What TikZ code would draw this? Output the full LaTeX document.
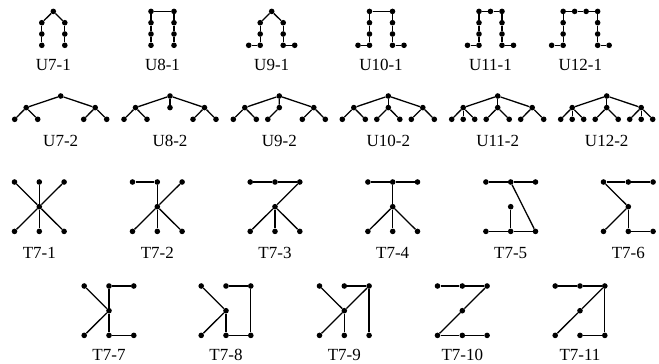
\documentclass[tikz,border=0pt]{standalone}
\usepackage{fontspec}
\setmainfont{Liberation Serif}
\tikzset{
  dot/.style={circle,fill=black,inner sep=0pt,minimum size=5.6pt},
  edge/.style={line width=1.3pt},
  lbl/.style={anchor=base,font=\fontsize{17}{17}\selectfont,inner sep=0pt}
}
\newcommand{\TGraph}[6]{%
  \node[dot] (#1TL) at ({#2-24.8},{#3-24.7}) {};
  \node[dot] (#1TM) at ({#2},{#3-24.7}) {};
  \node[dot] (#1TR) at ({#2+24.8},{#3-24.7}) {};
  \node[dot] (#1C)  at ({#2},{#3}) {};
  \node[dot] (#1BL) at ({#2-24.8},{#3+24.7}) {};
  \node[dot] (#1BM) at ({#2},{#3+24.7}) {};
  \node[dot] (#1BR) at ({#2+24.8},{#3+24.7}) {};
  \foreach \a/\b in {#4} {\draw[edge] (#1\a) -- (#1\b);}
  \node[lbl] (#1lab) at (#2,#6) {#5};
}
\begin{document}
\begin{tikzpicture}[x=1pt,y=-1pt]
\useasboundingbox (0,0) rectangle (659,364);

% ---------- Row 1 ----------
\begin{scope}[shift={(53.3,0)}]
  \node[dot] (a7t) at (0,11.4) {};
  \node[dot] (a7l1) at (-11.5,22.7) {};
  \node[dot] (a7l2) at (-11.5,34) {};
  \node[dot] (a7l3) at (-11.5,45.3) {};
  \node[dot] (a7r1) at (11.5,22.7) {};
  \node[dot] (a7r2) at (11.5,34) {};
  \node[dot] (a7r3) at (11.5,45.3) {};
  \draw[edge] (a7l1) -- (a7t) -- (a7r1);
  \draw[edge] (a7l1) -- (a7l2) -- (a7l3);
  \draw[edge] (a7r1) -- (a7r2) -- (a7r3);
  \node[lbl] (a7lab) at (0,70.7) {U7-1};
\end{scope}
\begin{scope}[shift={(162.5,0)}]
  \node[dot] (a8lt) at (-11.5,11.4) {};
  \node[dot] (a8l1) at (-11.5,22.7) {};
  \node[dot] (a8l2) at (-11.5,34) {};
  \node[dot] (a8l3) at (-11.5,45.3) {};
  \node[dot] (a8rt) at (11.5,11.4) {};
  \node[dot] (a8r1) at (11.5,22.7) {};
  \node[dot] (a8r2) at (11.5,34) {};
  \node[dot] (a8r3) at (11.5,45.3) {};
  \draw[edge] (a8lt) -- (a8rt);
  \draw[edge] (a8lt) -- (a8l1) -- (a8l2) -- (a8l3);
  \draw[edge] (a8rt) -- (a8r1) -- (a8r2) -- (a8r3);
  \node[lbl] (a8lab) at (0,70.7) {U8-1};
\end{scope}
\begin{scope}[shift={(271.7,0)}]
  \node[dot] (a9t) at (0,11.4) {};
  \node[dot] (a9l1) at (-11.5,22.7) {};
  \node[dot] (a9l2) at (-11.5,34) {};
  \node[dot] (a9l3) at (-11.5,45.3) {};
  \node[dot] (a9r1) at (11.5,22.7) {};
  \node[dot] (a9r2) at (11.5,34) {};
  \node[dot] (a9r3) at (11.5,45.3) {};
  \node[dot] (a9ll) at (-23,45.3) {};
  \node[dot] (a9rr) at (23,45.3) {};
  \draw[edge] (a9l1) -- (a9t) -- (a9r1);
  \draw[edge] (a9l1) -- (a9l2) -- (a9l3) -- (a9ll);
  \draw[edge] (a9r1) -- (a9r2) -- (a9r3) -- (a9rr);
  \node[lbl] (a9lab) at (0,70.7) {U9-1};
\end{scope}
\begin{scope}[shift={(381,0)}]
  \node[dot] (a10lt) at (-11.5,11.4) {};
  \node[dot] (a10l1) at (-11.5,22.7) {};
  \node[dot] (a10l2) at (-11.5,34) {};
  \node[dot] (a10l3) at (-11.5,45.3) {};
  \node[dot] (a10rt) at (11.5,11.4) {};
  \node[dot] (a10r1) at (11.5,22.7) {};
  \node[dot] (a10r2) at (11.5,34) {};
  \node[dot] (a10r3) at (11.5,45.3) {};
  \node[dot] (a10ll) at (-23,45.3) {};
  \node[dot] (a10rr) at (23,45.3) {};
  \draw[edge] (a10lt) -- (a10rt);
  \draw[edge] (a10lt) -- (a10l1) -- (a10l2) -- (a10l3) -- (a10ll);
  \draw[edge] (a10rt) -- (a10r1) -- (a10r2) -- (a10r3) -- (a10rr);
  \node[lbl] (a10lab) at (0,70.7) {U10-1};
\end{scope}
\begin{scope}[shift={(490.5,0)}]
  \node[dot] (a11lt) at (-11.5,11.4) {};
  \node[dot] (a11mt) at (0,11.4) {};
  \node[dot] (a11rt) at (11.5,11.4) {};
  \node[dot] (a11l1) at (-11.5,22.7) {};
  \node[dot] (a11l2) at (-11.5,34) {};
  \node[dot] (a11l3) at (-11.5,45.3) {};
  \node[dot] (a11r1) at (11.5,22.7) {};
  \node[dot] (a11r2) at (11.5,34) {};
  \node[dot] (a11r3) at (11.5,45.3) {};
  \node[dot] (a11ll) at (-23,45.3) {};
  \node[dot] (a11rr) at (23,45.3) {};
  \draw[edge] (a11lt) -- (a11mt) -- (a11rt);
  \draw[edge] (a11lt) -- (a11l1) -- (a11l2) -- (a11l3) -- (a11ll);
  \draw[edge] (a11rt) -- (a11r1) -- (a11r2) -- (a11r3) -- (a11rr);
  \node[lbl] (a11lab) at (0,70.7) {U11-1};
\end{scope}
\begin{scope}[shift={(580.4,0)}]
  \node[dot] (a12t1) at (-17.25,11.4) {};
  \node[dot] (a12t2) at (-5.75,11.4) {};
  \node[dot] (a12t3) at (5.75,11.4) {};
  \node[dot] (a12t4) at (17.25,11.4) {};
  \node[dot] (a12l1) at (-17.25,22.7) {};
  \node[dot] (a12l2) at (-17.25,34) {};
  \node[dot] (a12l3) at (-17.25,45.3) {};
  \node[dot] (a12r1) at (17.25,22.7) {};
  \node[dot] (a12r2) at (17.25,34) {};
  \node[dot] (a12r3) at (17.25,45.3) {};
  \node[dot] (a12ll) at (-28.75,45.3) {};
  \node[dot] (a12rr) at (28.75,45.3) {};
  \draw[edge] (a12t1) -- (a12t2) -- (a12t3) -- (a12t4);
  \draw[edge] (a12t1) -- (a12l1) -- (a12l2) -- (a12l3) -- (a12ll);
  \draw[edge] (a12t4) -- (a12r1) -- (a12r2) -- (a12r3) -- (a12rr);
  \node[lbl] (a12lab) at (0,70.7) {U12-1};
\end{scope}

% ---------- Row 2 ----------
\begin{scope}[shift={(60.7,0)}]
  \node[dot] (b7r) at (0,96) {};
  \node[dot] (b7a) at (-34.5,107.6) {};
  \node[dot] (b7b) at (34.5,107.6) {};
  \node[dot] (b7a1) at (-46,119.3) {};
  \node[dot] (b7a2) at (-23,119.3) {};
  \node[dot] (b7b1) at (23,119.3) {};
  \node[dot] (b7b2) at (46,119.3) {};
  \draw[edge] (b7a) -- (b7r) -- (b7b);
  \draw[edge] (b7a1) -- (b7a) -- (b7a2);
  \draw[edge] (b7b1) -- (b7b) -- (b7b2);
  \node[lbl] (b7lab) at (0,146) {U7-2};
\end{scope}
\begin{scope}[shift={(170,0)}]
  \node[dot] (b8r) at (0,96) {};
  \node[dot] (b8a) at (-34.5,107.6) {};
  \node[dot] (b8m) at (0,107.6) {};
  \node[dot] (b8b) at (34.5,107.6) {};
  \node[dot] (b8a1) at (-46,119.3) {};
  \node[dot] (b8a2) at (-23,119.3) {};
  \node[dot] (b8b1) at (23,119.3) {};
  \node[dot] (b8b2) at (46,119.3) {};
  \draw[edge] (b8a) -- (b8r) -- (b8b);
  \draw[edge] (b8r) -- (b8m);
  \draw[edge] (b8a1) -- (b8a) -- (b8a2);
  \draw[edge] (b8b1) -- (b8b) -- (b8b2);
  \node[lbl] (b8lab) at (0,146) {U8-2};
\end{scope}
\begin{scope}[shift={(279.3,0)}]
  \node[dot] (b9r) at (0,96) {};
  \node[dot] (b9a) at (-34.5,107.6) {};
  \node[dot] (b9m) at (0,107.6) {};
  \node[dot] (b9b) at (34.5,107.6) {};
  \node[dot] (b9a1) at (-46,119.3) {};
  \node[dot] (b9a2) at (-23,119.3) {};
  \node[dot] (b9m1) at (-11.5,119.3) {};
  \node[dot] (b9b1) at (23,119.3) {};
  \node[dot] (b9b2) at (46,119.3) {};
  \draw[edge] (b9a) -- (b9r) -- (b9b);
  \draw[edge] (b9r) -- (b9m) -- (b9m1);
  \draw[edge] (b9a1) -- (b9a) -- (b9a2);
  \draw[edge] (b9b1) -- (b9b) -- (b9b2);
  \node[lbl] (b9lab) at (0,146) {U9-2};
\end{scope}
\begin{scope}[shift={(388.3,0)}]
  \node[dot] (b10r) at (0,96) {};
  \node[dot] (b10a) at (-34.5,107.6) {};
  \node[dot] (b10m) at (0,107.6) {};
  \node[dot] (b10b) at (34.5,107.6) {};
  \node[dot] (b10a1) at (-46,119.3) {};
  \node[dot] (b10a2) at (-23,119.3) {};
  \node[dot] (b10m1) at (-11.5,119.3) {};
  \node[dot] (b10m2) at (11.5,119.3) {};
  \node[dot] (b10b1) at (23,119.3) {};
  \node[dot] (b10b2) at (46,119.3) {};
  \draw[edge] (b10a) -- (b10r) -- (b10b);
  \draw[edge] (b10r) -- (b10m);
  \draw[edge] (b10m1) -- (b10m) -- (b10m2);
  \draw[edge] (b10a1) -- (b10a) -- (b10a2);
  \draw[edge] (b10b1) -- (b10b) -- (b10b2);
  \node[lbl] (b10lab) at (0,146) {U10-2};
\end{scope}
\begin{scope}[shift={(497.7,0)}]
  \node[dot] (b11r) at (0,96) {};
  \node[dot] (b11a) at (-34.5,107.6) {};
  \node[dot] (b11m) at (0,107.6) {};
  \node[dot] (b11b) at (34.5,107.6) {};
  \node[dot] (b11a1) at (-46,119.3) {};
  \node[dot] (b11a0) at (-34.5,119.3) {};
  \node[dot] (b11a2) at (-23,119.3) {};
  \node[dot] (b11m1) at (-11.5,119.3) {};
  \node[dot] (b11m2) at (11.5,119.3) {};
  \node[dot] (b11b1) at (23,119.3) {};
  \node[dot] (b11b2) at (46,119.3) {};
  \draw[edge] (b11a) -- (b11r) -- (b11b);
  \draw[edge] (b11r) -- (b11m);
  \draw[edge] (b11m1) -- (b11m) -- (b11m2);
  \draw[edge] (b11a1) -- (b11a) -- (b11a2);
  \draw[edge] (b11a) -- (b11a0);
  \draw[edge] (b11b1) -- (b11b) -- (b11b2);
  \node[lbl] (b11lab) at (0,146) {U11-2};
\end{scope}
\begin{scope}[shift={(606.7,0)}]
  \node[dot] (b12r) at (0,96) {};
  \node[dot] (b12a) at (-34.5,107.6) {};
  \node[dot] (b12m) at (0,107.6) {};
  \node[dot] (b12b) at (34.5,107.6) {};
  \node[dot] (b12a1) at (-46,119.3) {};
  \node[dot] (b12a0) at (-34.5,119.3) {};
  \node[dot] (b12a2) at (-23,119.3) {};
  \node[dot] (b12m1) at (-11.5,119.3) {};
  \node[dot] (b12m2) at (11.5,119.3) {};
  \node[dot] (b12b1) at (23,119.3) {};
  \node[dot] (b12b0) at (34.5,119.3) {};
  \node[dot] (b12b2) at (46,119.3) {};
  \draw[edge] (b12a) -- (b12r) -- (b12b);
  \draw[edge] (b12r) -- (b12m);
  \draw[edge] (b12m1) -- (b12m) -- (b12m2);
  \draw[edge] (b12a1) -- (b12a) -- (b12a2);
  \draw[edge] (b12a) -- (b12a0);
  \draw[edge] (b12b1) -- (b12b) -- (b12b2);
  \draw[edge] (b12b) -- (b12b0);
  \node[lbl] (b12lab) at (0,146) {U12-2};
\end{scope}

% ---------- Row 3 ----------
\TGraph{ta}{39.3}{206.7}{TL/C,TM/C,TR/C,C/BL,C/BM,C/BR}{T7-1}{258.3}
\TGraph{tb}{157.3}{206.7}{TL/TM,TM/C,TR/C,C/BL,C/BM,C/BR}{T7-2}{258.3}
\TGraph{tc}{275}{206.7}{TL/TM,TM/TR,TR/C,C/BL,C/BM,C/BR}{T7-3}{258.3}
\TGraph{td}{392.7}{206.7}{TL/TM,TM/TR,TM/C,C/BL,C/BM,C/BR}{T7-4}{258.3}
\TGraph{te}{510.7}{206.7}{TL/TM,TM/TR,TM/BR,BL/BM,BM/BR,BM/C}{T7-5}{258.3}
\TGraph{tf}{628.3}{206.7}{TL/TM,TM/TR,TL/C,C/BL,C/BM,BM/BR}{T7-6}{258.3}

% ---------- Row 4 ----------
\TGraph{tg}{109}{310.7}{TL/C,C/BL,TM/C,C/BM,TM/TR,BM/BR}{T7-7}{360}
\TGraph{th}{226}{310.7}{TL/C,C/BL,C/BM,BM/BR,BR/TR,TR/TM}{T7-8}{360}
\TGraph{ti}{344.3}{310.7}{TL/C,C/BL,C/BM,TM/TR,TR/C,TR/BR}{T7-9}{360}
\TGraph{tj}{462.3}{310.7}{TL/TM,TM/TR,TR/C,C/BL,BL/BM,BM/BR}{T7-10}{360}
\TGraph{tk}{580}{310.7}{TL/TM,TM/TR,TR/C,C/BL,TR/BR,BR/BM}{T7-11}{360}
\end{tikzpicture}
\end{document}
